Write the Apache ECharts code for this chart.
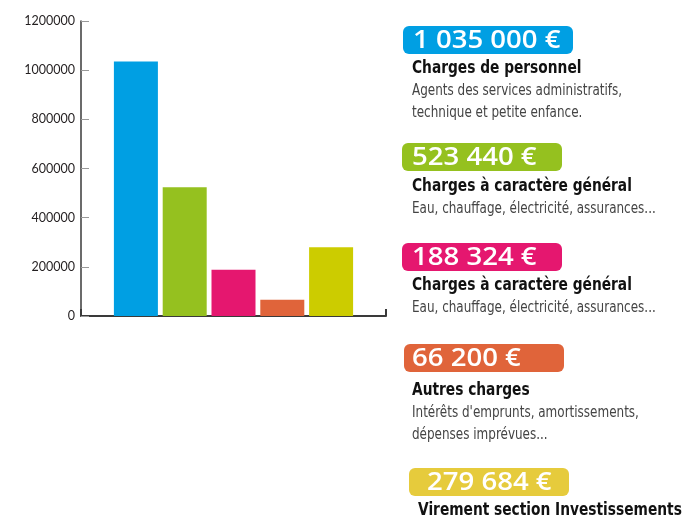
<!DOCTYPE html>
<html>
<head>
<meta charset="utf-8">
<script src="https://cdn.jsdelivr.net/npm/echarts@6/dist/echarts.min.js"></script>
<style>
  html, body { margin: 0; padding: 0; background: #fff; }
  #chart { width: 684px; height: 517px; }
</style>
</head>
<body>
<div id="chart"></div>
<script>
// données
const categories = ['Charges de personnel', 'Charges à caractère général', 'Charges à caractère général', 'Autres charges', 'Virement section Investissements']
const values = [1035000, 523440, 188324, 66200, 279684]
const amountLabels = ['1 035 000 €', '523 440 €', '188 324 €', '66 200 €', '279 684 €']
const descriptions = [
  ['Agents des services administratifs,', 'technique et petite enfance.'],
  ['Eau, chauffage, électricité, assurances...'],
  ['Eau, chauffage, électricité, assurances...'],
  ['Intérêts d\'emprunts, amortissements,', 'dépenses imprévues...'],
  []
]

const barColors = ['#009fe3', '#95c11f', '#e5176f', '#e0643a', '#cccc00']
const boxColors = ['#009fe3', '#95c11f', '#e5176f', '#e0643a', '#e6cb3c']

// mise en page des encarts
const boxes = [
  { x: 403, y: 26, w: 170, textX: 10, titleY: 69, titleX: 9 },
  { x: 402, y: 143, w: 160, textX: 10, titleY: 187, titleX: 10 },
  { x: 402, y: 243, w: 160, textX: 10, titleY: 286, titleX: 10 },
  { x: 404, y: 344, w: 160, textX: 8, titleY: 391, titleX: 8 },
  { x: 409, y: 468, w: 160, textX: 18, titleY: 511, titleX: 9 }
]

const condensed = '"Liberation Sans Narrow", "DejaVu Sans Condensed", sans-serif'

const chart = echarts.init(document.getElementById('chart'))

const graphics = []
boxes.forEach((b, i) => {
  const children = [
    {
      type: 'rect',
      shape: { x: 0, y: 0, width: b.w, height: 28, r: 6 },
      style: { fill: boxColors[i] }
    },
    {
      type: 'text',
      x: b.textX, y: 15,
      scaleX: 1.06,
      style: {
        text: amountLabels[i],
        fill: '#fff',
        font: '600 26px "Open Sans", sans-serif',
        verticalAlign: 'middle'
      }
    },
    {
      type: 'text',
      x: b.titleX, y: b.titleY - b.y,
      scaleX: 0.9,
      style: {
        text: categories[i],
        fill: '#111',
        font: 'bold 17px ' + condensed,
        verticalAlign: 'middle'
      }
    }
  ]
  descriptions[i].forEach((line, k) => {
    children.push({
      type: 'text',
      x: b.titleX, y: b.titleY - b.y + 22 + k * 22,
      scaleX: 0.86,
      style: {
        text: line,
        fill: '#444',
        font: '15.5px ' + condensed,
        verticalAlign: 'middle'
      }
    })
  })
  graphics.push({ type: 'group', x: b.x, y: b.y, children: children })
})

const option = {
  animation: false,
  grid: [
    { left: 81, top: 21, width: 305, height: 295 },
    { left: 111.5, top: 21, width: 244, height: 295 }
  ],
  xAxis: [
    {
      gridIndex: 0,
      type: 'value',
      min: 0,
      max: 1,
      interval: 1,
      axisLine: { show: true, lineStyle: { color: '#3a3a3a', width: 2 } },
      axisTick: { show: true, inside: true, length: 7, lineStyle: { color: '#3a3a3a', width: 2 } },
      axisLabel: { show: false },
      splitLine: { show: false }
    },
    {
      gridIndex: 1,
      type: 'category',
      data: categories,
      show: false
    }
  ],
  yAxis: [
    {
      gridIndex: 0,
      type: 'value',
      min: 0,
      max: 1200000,
      interval: 200000,
      axisLine: { show: true, lineStyle: { color: '#3a3a3a', width: 1.5 } },
      axisTick: { show: true, inside: true, length: 8, lineStyle: { color: '#999' } },
      axisLabel: {
        color: '#231f20',
        fontSize: 12.5,
        fontFamily: 'Lato, sans-serif',
        margin: 6,
        formatter: v => String(v)
      },
      splitLine: { show: false }
    },
    {
      gridIndex: 1,
      type: 'value',
      min: 0,
      max: 1200000,
      show: false
    }
  ],
  series: [{
    type: 'bar',
    xAxisIndex: 1,
    yAxisIndex: 1,
    barWidth: 44,
    data: values.map((v, i) => ({ value: v, itemStyle: { color: barColors[i] } }))
  }],
  graphic: graphics
}

chart.setOption(option)
</script>
</body>
</html>
